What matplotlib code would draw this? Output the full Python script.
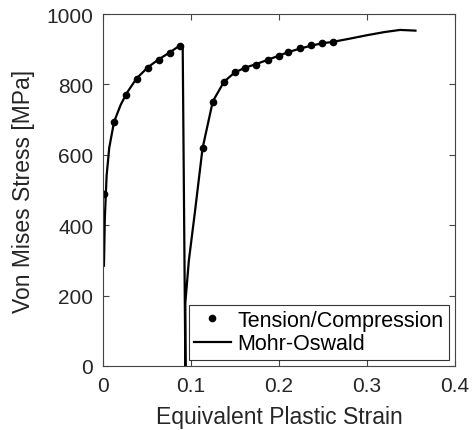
import matplotlib
matplotlib.use("Agg")
import matplotlib.pyplot as plt

# measured points (tension then compression)
test_strain = [0.001, 0.0125, 0.0265, 0.038, 0.051, 0.063, 0.0757, 0.0875,
               0.113, 0.1247, 0.1375, 0.1496, 0.1617, 0.1742, 0.187, 0.200,
               0.2106, 0.2239, 0.236, 0.2489, 0.261]
test_stress = [489, 694, 770, 815, 847, 870, 889, 908,
               620, 751, 808, 835, 848, 856, 869, 882,
               893, 903, 911, 918, 921]

# Mohr-Oswald model curve
model_strain = [0.001, 0.002, 0.004, 0.007, 0.0125, 0.02, 0.0265, 0.038,
                0.051, 0.063, 0.0757, 0.0886, 0.0905, 0.0935, 0.0935,
                0.0975, 0.1045, 0.113, 0.1247, 0.1375, 0.1496, 0.1617,
                0.1742, 0.187, 0.200, 0.2106, 0.2239, 0.236, 0.2489, 0.261,
                0.28, 0.30, 0.32, 0.3375, 0.355]
model_stress = [285, 420, 540, 620, 694, 742, 774, 817,
                849, 871, 891, 913, 905, 0, 180,
                300, 440, 618, 752, 808, 834, 848,
                858, 870, 882, 892, 902, 910, 917, 921,
                930, 940, 949, 955, 953]

plt.rcParams.update({"font.family": ["Liberation Sans", "DejaVu Sans"],
                     "font.size": 15})

fig = plt.figure(figsize=(4.75, 4.31), dpi=100)
ax = fig.add_axes([0.217, 0.1485, 0.741, 0.8165])

ax.plot(test_strain, test_stress, "o", color="black", markersize=4.5,
        label="Tension/Compression")
ax.plot(model_strain, model_stress, "-", color="black", linewidth=1.6,
        label="Mohr-Oswald")

ax.set_xlim(0, 0.4)
ax.set_ylim(0, 1000)
ax.set_xticks([0, 0.1, 0.2, 0.3, 0.4])
ax.set_xticklabels(["0", "0.1", "0.2", "0.3", "0.4"])
ax.set_yticks([0, 200, 400, 600, 800, 1000])
ax.tick_params(direction="in", top=True, right=True, length=4,
               color="#444444", labelcolor="#262626", labelsize=15, pad=7)
for sp in ax.spines.values():
    sp.set_color("#444444")
ax.set_xlabel("Equivalent Plastic Strain", fontsize=16.5, color="#262626",
              labelpad=7.5)
ax.set_ylabel("Von Mises Stress [MPa]", fontsize=16.5, color="#262626",
              labelpad=8)

leg = ax.legend(loc="lower right", fontsize=15.5, frameon=True, fancybox=False,
                edgecolor="black", borderpad=0.25, handlelength=1.7,
                handletextpad=0.3, labelspacing=0.1, borderaxespad=0.3)
leg.get_frame().set_linewidth(0.8)

fig.savefig("out.png", dpi=100)
